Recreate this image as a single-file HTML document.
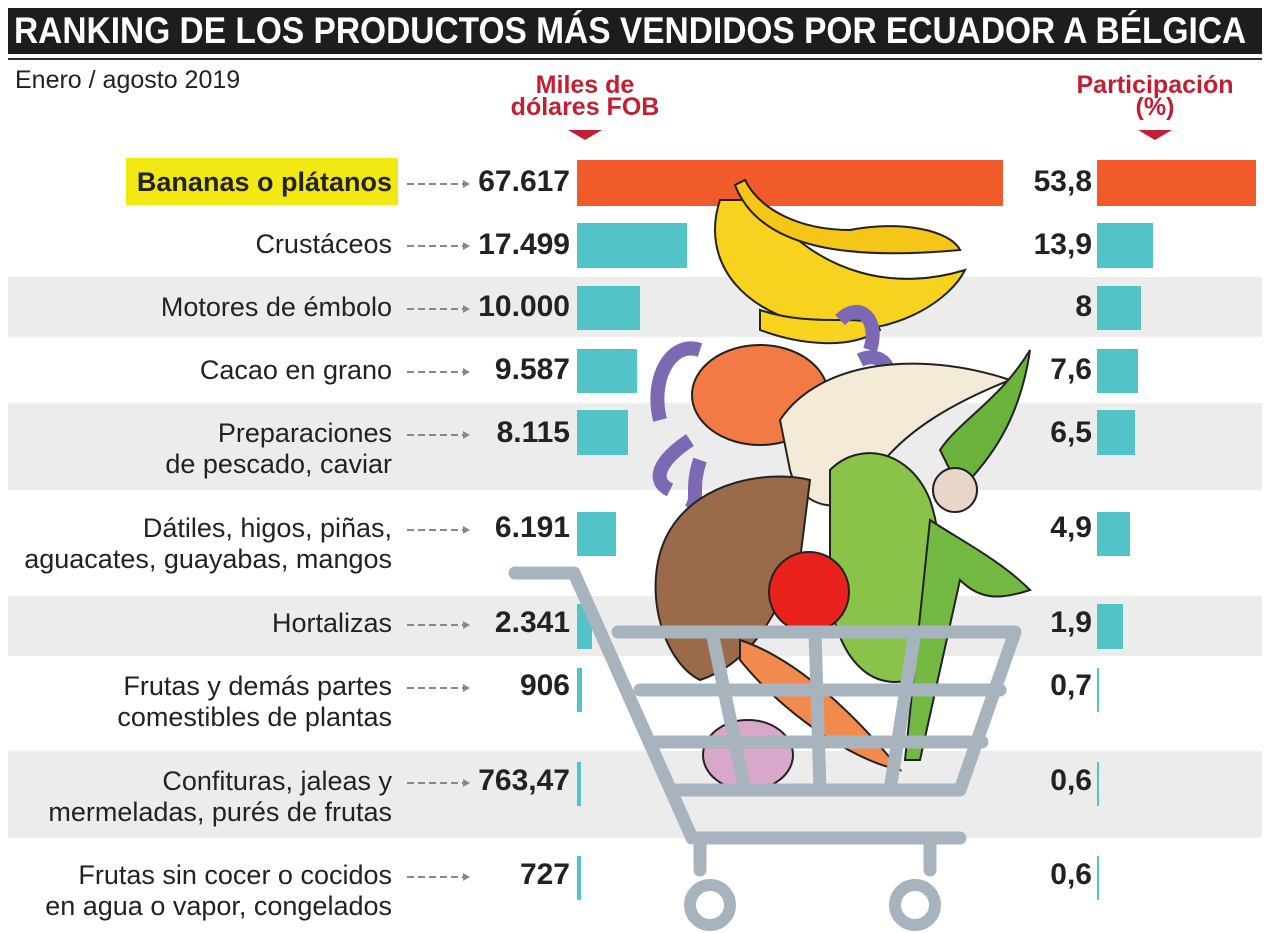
<!DOCTYPE html>
<html><head><meta charset="utf-8"><style>
body{margin:0;width:1269px;height:933px;background:#fff;position:relative;overflow:hidden;font-family:"Liberation Sans",sans-serif;color:#222}
.a{position:absolute}
.band{position:absolute;left:8px;width:1254px;background:#ececec}
.lab{position:absolute;right:877px;text-align:right;font-size:27px;line-height:31px;white-space:nowrap}
.val{position:absolute;right:699px;font-weight:bold;font-size:30px;line-height:34px}
.pct{position:absolute;right:177px;font-weight:bold;font-size:30px;line-height:34px}
.arr{position:absolute;left:407px;width:57px;height:2px;background:repeating-linear-gradient(90deg,#888 0 7px,transparent 7px 11px)}
.arr:after{content:"";position:absolute;right:-6px;top:-3px;border-left:7px solid #888;border-top:4px solid transparent;border-bottom:4px solid transparent}
.b{position:absolute;background:#52c3c6}
.hdr{position:absolute;color:#c21f32;font-weight:bold;font-size:25px;line-height:22px;text-align:center}
.tri{position:absolute;width:0;height:0;border-left:17px solid transparent;border-right:17px solid transparent;border-top:10px solid #c21f32}
</style></head><body>
<div class="a" style="left:8px;top:8px;width:1254px;height:46px;background:#1d1d1b"></div>
<div class="a" style="left:14px;top:8px;color:#fff;font-weight:bold;font-size:37px;line-height:46px;white-space:nowrap;transform:scaleX(0.905);transform-origin:0 0">RANKING DE LOS PRODUCTOS MÁS VENDIDOS POR ECUADOR A BÉLGICA</div>
<div class="a" style="left:8px;top:58px;width:1254px;height:2px;background:#333"></div>
<div class="a" style="left:15px;top:66px;font-size:25px">Enero / agosto 2019</div>
<div class="hdr" style="left:490px;top:74px;width:190px">Miles de<br>dólares FOB</div>
<div class="tri" style="left:568px;top:130px"></div>
<div class="hdr" style="left:1060px;top:74px;width:190px">Participación<br>(%)</div>
<div class="tri" style="left:1138px;top:130px"></div>

<div class="band" style="top:277px;height:60px"></div>
<div class="band" style="top:403px;height:87px"></div>
<div class="band" style="top:596px;height:60px"></div>
<div class="band" style="top:751px;height:87px"></div>

<div class="a" style="left:126px;top:158px;width:272px;height:47px;background:#f2e814"></div>
<div class="lab" style="top:167px;font-weight:bold">Bananas o plátanos</div>
<div class="lab" style="top:229px">Crustáceos</div>
<div class="lab" style="top:292px">Motores de émbolo</div>
<div class="lab" style="top:355px">Cacao en grano</div>
<div class="lab" style="top:418px">Preparaciones<br>de pescado, caviar</div>
<div class="lab" style="top:513px">Dátiles, higos, piñas,<br>aguacates, guayabas, mangos</div>
<div class="lab" style="top:608px">Hortalizas</div>
<div class="lab" style="top:671px">Frutas y demás partes<br>comestibles de plantas</div>
<div class="lab" style="top:766px">Confituras, jaleas y<br>mermeladas, purés de frutas</div>
<div class="lab" style="top:860px">Frutas sin cocer o cocidos<br>en agua o vapor, congelados</div>

<div class="arr" style="top:183px"></div><div class="arr" style="top:245px"></div><div class="arr" style="top:308px"></div><div class="arr" style="top:371px"></div><div class="arr" style="top:434px"></div><div class="arr" style="top:529px"></div><div class="arr" style="top:624px"></div><div class="arr" style="top:687px"></div><div class="arr" style="top:782px"></div><div class="arr" style="top:876px"></div>

<div class="val" style="top:165px">67.617</div>
<div class="val" style="top:228px">17.499</div>
<div class="val" style="top:290px">10.000</div>
<div class="val" style="top:353px">9.587</div>
<div class="val" style="top:416px">8.115</div>
<div class="val" style="top:511px">6.191</div>
<div class="val" style="top:606px">2.341</div>
<div class="val" style="top:669px">906</div>
<div class="val" style="top:764px">763,47</div>
<div class="val" style="top:858px">727</div>

<div class="pct" style="top:165px">53,8</div>
<div class="pct" style="top:228px">13,9</div>
<div class="pct" style="top:290px">8</div>
<div class="pct" style="top:353px">7,6</div>
<div class="pct" style="top:416px">6,5</div>
<div class="pct" style="top:511px">4,9</div>
<div class="pct" style="top:606px">1,9</div>
<div class="pct" style="top:669px">0,7</div>
<div class="pct" style="top:764px">0,6</div>
<div class="pct" style="top:858px">0,6</div>

<div class="b" style="left:577px;top:160px;width:426px;height:46px;background:#f15a2b"></div>
<div class="b" style="left:577px;top:223px;width:110px;height:45px"></div>
<div class="b" style="left:577px;top:286px;width:63px;height:44px"></div>
<div class="b" style="left:577px;top:349px;width:60px;height:44px"></div>
<div class="b" style="left:577px;top:410px;width:51px;height:45px"></div>
<div class="b" style="left:577px;top:512px;width:39px;height:44px"></div>
<div class="b" style="left:577px;top:604px;width:15px;height:45px"></div>
<div class="b" style="left:577px;top:668px;width:5px;height:44px"></div>
<div class="b" style="left:577px;top:762px;width:4px;height:44px"></div>
<div class="b" style="left:577px;top:856px;width:4px;height:44px"></div>

<div class="b" style="left:1097px;top:160px;width:159px;height:46px;background:#f15a2b"></div>
<div class="b" style="left:1097px;top:223px;width:56px;height:45px"></div>
<div class="b" style="left:1097px;top:286px;width:44px;height:44px"></div>
<div class="b" style="left:1097px;top:349px;width:41px;height:44px"></div>
<div class="b" style="left:1097px;top:410px;width:38px;height:45px"></div>
<div class="b" style="left:1097px;top:512px;width:33px;height:44px"></div>
<div class="b" style="left:1097px;top:604px;width:26px;height:45px"></div>
<div class="b" style="left:1097px;top:668px;width:2px;height:44px"></div>
<div class="b" style="left:1097px;top:762px;width:2px;height:44px"></div>
<div class="b" style="left:1097px;top:856px;width:2px;height:44px"></div>

<svg class="a" style="left:0;top:0" width="1269" height="933">
<g stroke="#222" stroke-width="2">
<path d="M720 200 C700 260 740 320 840 330 C900 332 950 300 965 270 C900 290 820 280 760 200 Z" fill="#f7d21e"/>
<path d="M735 185 C760 250 850 260 960 250 C950 230 900 220 850 230 C800 230 760 210 745 180 Z" fill="#f5c518"/>
<path d="M760 310 C820 330 870 310 880 330 C850 350 800 345 760 330 Z" fill="#f7d21e"/>
<path d="M700 350 C670 340 650 380 660 420 M690 440 C660 460 650 480 670 490 M700 460 C690 490 700 500 690 510 M840 320 C860 300 880 320 870 350 M860 360 C880 350 900 370 880 390" fill="none" stroke="#7d68b3" stroke-width="14"/>
<ellipse cx="760" cy="395" rx="68" ry="50" fill="#f27a45"/>
<path d="M780 420 C820 360 920 350 1010 380 C960 400 900 430 870 480 C850 520 800 510 790 470 Z" fill="#f3ead8"/>
<path d="M670 530 C700 480 770 470 810 480 L800 560 C780 600 760 660 700 680 C660 660 640 580 670 530 Z" fill="#9a6a4a"/>
<path d="M830 470 C860 440 910 450 930 500 C950 560 940 640 910 680 C870 690 840 660 830 600 Z" fill="#8bc34a"/>
<path d="M940 450 C960 420 1000 400 1030 350 C1020 420 990 460 960 490 Z" fill="#6bb33a"/>
<circle cx="955" cy="490" r="22" fill="#e8d7c8"/>
<path d="M930 520 C960 540 1000 560 1030 590 C1000 600 980 600 960 580 L920 760 L905 760 Z" fill="#72b843"/>
<circle cx="809" cy="592" r="40" fill="#e8211d"/>
<path d="M740 640 C800 660 860 720 900 770 C850 760 780 710 740 660 Z" fill="#f28a4d"/>
<ellipse cx="748" cy="755" rx="45" ry="35" fill="#d9a7c9"/>
</g>
<g fill="none" stroke="#a8b4bd" stroke-width="13" stroke-linecap="round" stroke-linejoin="round">
<path d="M515 573 L574 573 L692 838 L960 838"/>
<path d="M618 632 L1015 632 L960 790 L675 790"/>
<path d="M640 690 L1000 690 M655 742 L982 742"/>
<path d="M712 632 L745 790 M815 632 L820 790 M915 632 L890 790"/>
<path d="M700 838 L700 870 M930 838 L930 870"/>
</g>
<circle cx="710" cy="905" r="20" fill="none" stroke="#a8b4bd" stroke-width="12"/>
<circle cx="915" cy="905" r="20" fill="none" stroke="#a8b4bd" stroke-width="12"/>
</svg>
</body></html>
